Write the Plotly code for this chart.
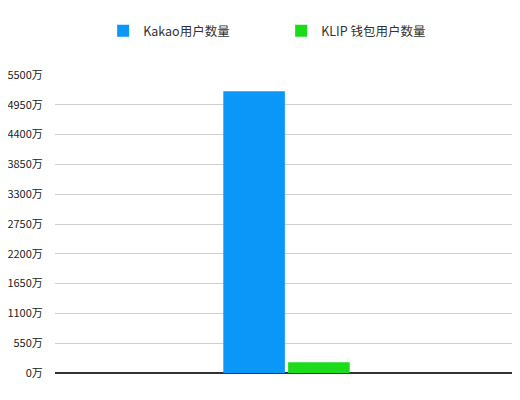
import plotly.graph_objects as go

categories = [""]
kakao_users = [5200]
klip_users = [200]
tick_values = [0, 550, 1100, 1650, 2200, 2750, 3300, 3850, 4400, 4950, 5500]
tick_labels = [f"{v}万" for v in tick_values]

fig = go.Figure()
fig.add_trace(go.Bar(x=categories, y=kakao_users, name="Kakao用户数量", marker_color="#0A97F7", marker_line_width=0))
fig.add_trace(go.Bar(x=categories, y=klip_users, name="KLIP 钱包用户数量", marker_color="#1BDB1B", marker_line_width=0))

fig.update_layout(
    width=520, height=400,
    margin=dict(l=47, r=10, t=67, b=35),
    paper_bgcolor="white", plot_bgcolor="white",
    font=dict(family="Noto Sans CJK SC, sans-serif", size=12.5, color="#222"),
    bargap=0.72, bargroupgap=0.05,
    showlegend=True,
    legend=dict(orientation="h", x=0.104, xanchor="left", y=0.98, yref="container", yanchor="top",
                font=dict(size=12.5, color="#333"), itemwidth=30, entrywidth=133, itemsizing="constant"),
)
fig.update_xaxes(showticklabels=False, showgrid=False, zeroline=False, showline=False)
fig.update_yaxes(range=[0, 5500], tickvals=tick_values, ticktext=tick_labels, automargin=False,
                 tickfont=dict(size=11, color="#222"),
                 showgrid=True, gridcolor="#d0d0d0", gridwidth=1,
                 zeroline=True, zerolinecolor="#333", zerolinewidth=1.5,
                 ticks="outside", ticklen=9, tickcolor="white")

fig.write_html("out.html")
